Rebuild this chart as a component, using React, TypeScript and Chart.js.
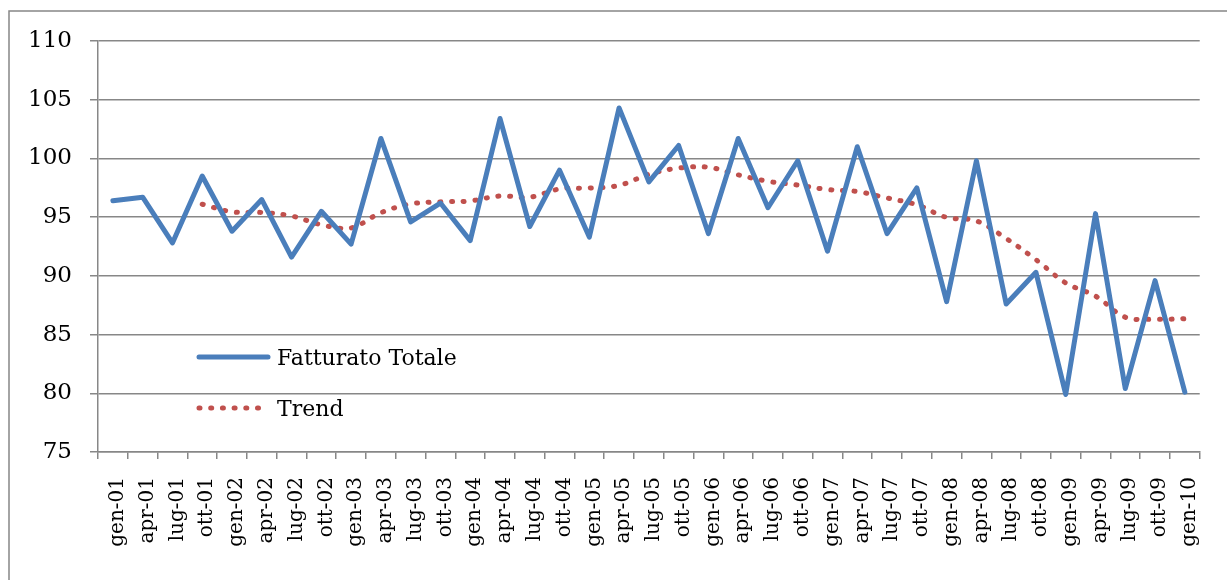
import { useEffect, useRef } from "react";
import { Chart, registerables } from "chart.js";

Chart.register(...registerables);

// Quarterly periods (Italian month abbreviations)
const quarters = [
  "gen-01", "apr-01", "lug-01", "ott-01",
  "gen-02", "apr-02", "lug-02", "ott-02",
  "gen-03", "apr-03", "lug-03", "ott-03",
  "gen-04", "apr-04", "lug-04", "ott-04",
  "gen-05", "apr-05", "lug-05", "ott-05",
  "gen-06", "apr-06", "lug-06", "ott-06",
  "gen-07", "apr-07", "lug-07", "ott-07",
  "gen-08", "apr-08", "lug-08", "ott-08",
  "gen-09", "apr-09", "lug-09", "ott-09",
  "gen-10",
];

// Total turnover index
const fatturatoTotale = [
  96.4, 96.7, 92.8, 98.5,
  93.8, 96.5, 91.6, 95.5,
  92.7, 101.7, 94.6, 96.2,
  93.0, 103.4, 94.2, 99.0,
  93.3, 104.3, 98.0, 101.1,
  93.6, 101.7, 95.8, 99.8,
  92.1, 101.0, 93.6, 97.5,
  87.8, 99.8, 87.6, 90.3,
  79.9, 95.3, 80.4, 89.6,
  80.1,
];

// Trend (four-quarter moving average), starting from the fourth quarter
const trend: (number | null)[] = [
  null, null, null, 96.1,
  95.45, 95.4, 95.1, 94.35,
  94.08, 95.38, 96.13, 96.3,
  96.38, 96.8, 96.7, 97.4,
  97.48, 97.7, 98.65, 99.18,
  99.25, 98.6, 98.05, 97.73,
  97.35, 97.18, 96.63, 96.05,
  94.98, 94.68, 93.18, 91.38,
  89.4, 88.28, 86.48, 86.3,
  86.35,
];

const yMin = 75;
const yMax = 110;
const yStep = 5;

const seriesNames = ["Fatturato Totale", "Trend"];

const GRID = "#878787";
const BLUE = "#4a7ebb";
const RED = "#c0504d";
const SERIF = "'DejaVu Serif', 'Liberation Serif', serif";

// Outer frame of the chart object (top and left edges)
const framePlugin = {
  id: "frame",
  beforeDraw(chart: any) {
    const { ctx } = chart;
    ctx.save();
    ctx.strokeStyle = GRID;
    ctx.lineWidth = 1.5;
    ctx.beginPath();
    ctx.moveTo(9, 600);
    ctx.lineTo(9, 11);
    ctx.lineTo(1240, 11);
    ctx.stroke();
    ctx.restore();
  },
};

// Legend drawn inside the plot area, one entry per dataset
const insideLegendPlugin = {
  id: "insideLegend",
  afterDatasetsDraw(chart: any) {
    const { ctx } = chart;
    const x0 = 199;
    const x1 = 268;
    const textX = 277;
    const rows = [357, 408];
    ctx.save();
    chart.data.datasets.forEach((ds: any, i: number) => {
      const y = rows[i];
      ctx.strokeStyle = ds.borderColor;
      ctx.lineWidth = ds.borderWidth;
      ctx.lineCap = "round";
      ctx.setLineDash(ds.borderDash || []);
      ctx.beginPath();
      ctx.moveTo(x0, y);
      ctx.lineTo(ds.borderDash ? x1 - 6 : x1, y);
      ctx.stroke();
      ctx.setLineDash([]);
      ctx.fillStyle = "#000";
      ctx.font = `22px ${SERIF}`;
      ctx.textAlign = "left";
      ctx.textBaseline = "alphabetic";
      ctx.fillText(ds.label, textX, y + 8);
    });
    ctx.restore();
  },
};

export default function App() {
  const canvasRef = useRef<HTMLCanvasElement | null>(null);

  useEffect(() => {
    const canvas = canvasRef.current;
    if (!canvas) return;
    const chart = new Chart(canvas, {
      type: "line",
      data: {
        labels: quarters,
        datasets: [
          {
            label: seriesNames[0],
            data: fatturatoTotale,
            borderColor: BLUE,
            borderWidth: 5,
            borderJoinStyle: "round",
            borderCapStyle: "round",
            pointRadius: 0,
            tension: 0,
            fill: false,
          },
          {
            label: seriesNames[1],
            data: trend,
            borderColor: RED,
            borderWidth: 5,
            borderDash: [1, 10.7],
            borderCapStyle: "round",
            pointRadius: 0,
            tension: 0.35,
            fill: false,
          },
        ],
      },
      options: {
        responsive: false,
        animation: false,
        events: [],
        layout: { padding: { left: 0, top: 41, right: 12, bottom: 0 } },
        plugins: {
          legend: { display: false },
          tooltip: { enabled: false },
        },
        scales: {
          x: {
            type: "category",
            offset: true,
            afterFit(scale: any) {
              scale.height = 128;
            },
            grid: {
              offset: true,
              drawOnChartArea: false,
              drawTicks: true,
              tickLength: 7,
              color: GRID,
              lineWidth: 1.5,
            },
            border: { display: true, color: GRID, width: 1.5 },
            ticks: {
              autoSkip: false,
              maxRotation: 90,
              minRotation: 90,
              padding: 18,
              labelOffset: 5,
              color: "#000",
              font: { family: SERIF, size: 20 },
            },
          },
          y: {
            min: yMin,
            max: yMax,
            afterFit(scale: any) {
              scale.width = 98;
            },
            grid: {
              drawTicks: true,
              tickLength: 8,
              color: GRID,
              lineWidth: 1.5,
            },
            border: { display: true, color: GRID, width: 1.5 },
            ticks: {
              stepSize: yStep,
              padding: 18,
              color: "#000",
              font: { family: SERIF, size: 23 },
            },
          },
        },
      },
      plugins: [framePlugin, insideLegendPlugin],
    });
    return () => chart.destroy();
  }, []);

  return (
    <div style={{ position: "absolute", left: 0, top: 0, width: 1227, height: 580, background: "#fff" }}>
      <canvas ref={canvasRef} width={1227} height={580} />
    </div>
  );
}
